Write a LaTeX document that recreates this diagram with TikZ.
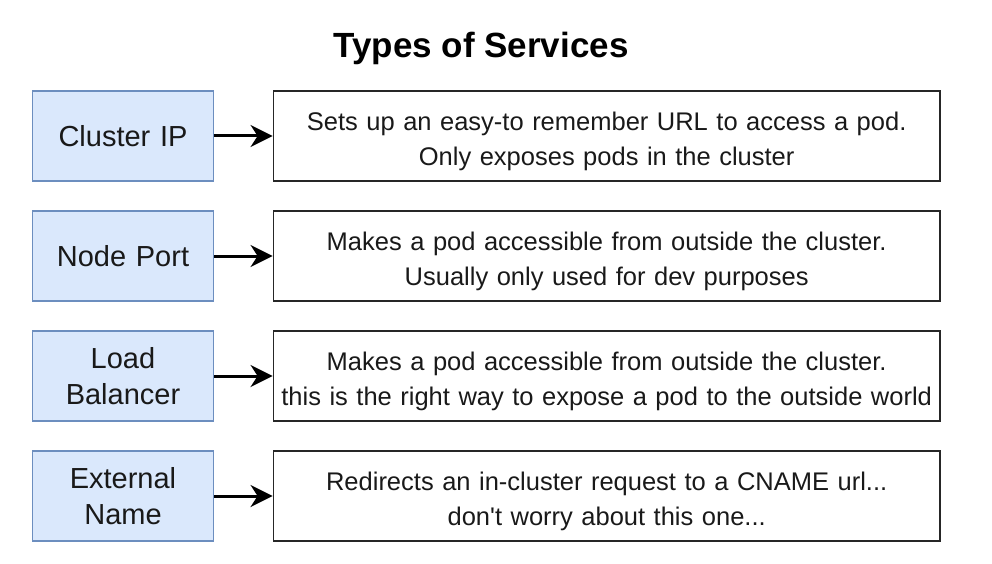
\documentclass[tikz,border=0pt]{standalone}
\usepackage{fontspec}
\setmainfont{Liberation Sans}[Ligatures=TeXOff]
\usetikzlibrary{arrows.meta,positioning}
\definecolor{boxfill}{HTML}{DAE8FC}
\definecolor{boxdraw}{HTML}{6C8EBF}
\tikzstyle{block} = [rectangle, draw=boxdraw, fill=boxfill, line width=1.5pt,
    text width=174pt, align=center, minimum width=180pt, minimum height=90pt,
    font=\fontsize{29}{36}\selectfont, text=black!90]
\tikzstyle{desc} = [rectangle, draw=black!85, line width=1.5pt,
    text width=660pt, align=center, minimum width=666pt, minimum height=90pt,
    text height=29pt, text depth=40pt, text=black!90,
    font=\fontsize{25.5}{35}\selectfont]
\tikzstyle{line} = [draw, line width=3pt, -{Stealth[length=22pt,width=22pt,inset=7pt]}]

\begin{document}
\begin{tikzpicture}[x=1pt, y=-1pt]
        \useasboundingbox (0,0) rectangle (992,564);
        % Title
        \node [font=\bfseries\fontsize{35}{40}\selectfont] (title) at (481,48) {Types of Services};
        % Place nodes
        \node [block] (CIP) at (123,136) {Cluster IP};
        \node [block] (NP) [below =28.5pt of CIP] {Node Port};
        \node [block] (LB) [below =28.5pt of NP] {Load\\Balancer};
        \node [block] (EN) [below =28.5pt of LB] {External\\Name};
        \node [desc] (CIPd) [right =58.5pt of CIP] {Sets up an easy-to remember URL to access a pod.\\Only exposes pods in the cluster};
        \node [desc] (NPd) [right =58.5pt of NP] {Makes a pod accessible from outside the cluster.\\Usually only used for dev purposes};
        \node [desc] (LBd) [right =58.5pt of LB] {Makes a pod accessible from outside the cluster.\\this is the right way to expose a pod to the outside world};
        \node [desc] (ENd) [right =58.5pt of EN] {Redirects an in-cluster request to a CNAME url...\\don't worry about this one...};
        % Draw edges
        \path [line] (CIP) -- (CIPd);
        \path [line] (NP) -- (NPd);
        \path [line] (LB) -- (LBd);
        \path [line] (EN) -- (ENd);
    \end{tikzpicture}
\end{document}
